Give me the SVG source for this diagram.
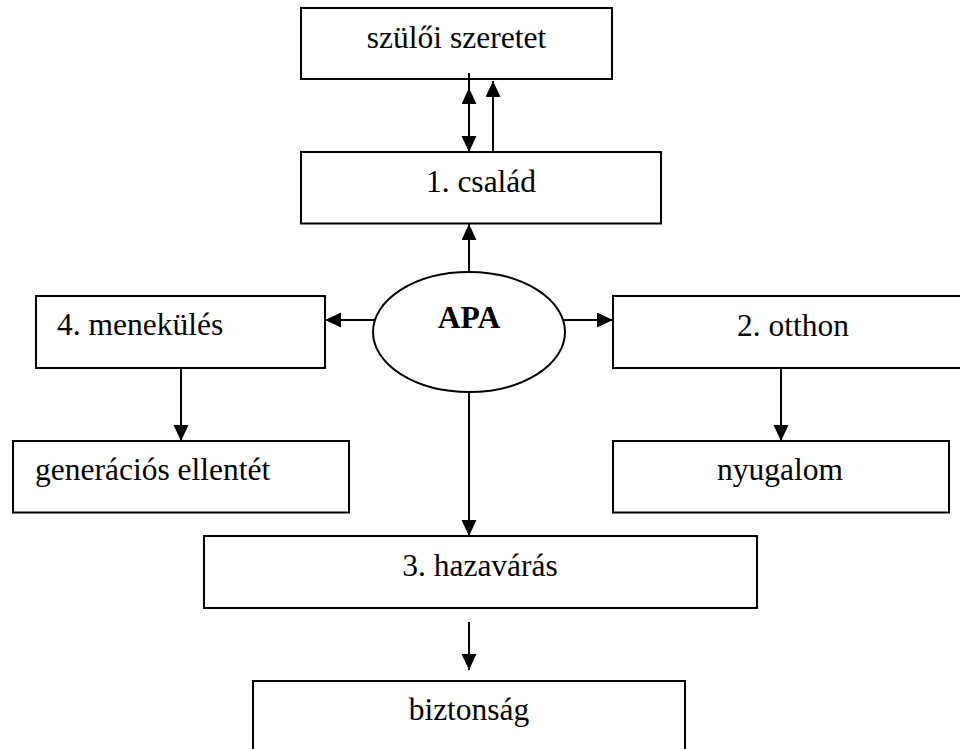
<svg xmlns="http://www.w3.org/2000/svg" width="960" height="749" viewBox="0 0 960 749">
  <defs>
    <marker id="ah" markerUnits="userSpaceOnUse" markerWidth="17" markerHeight="16" refX="16" refY="7.5" orient="auto">
      <path d="M0,0 L16,7.5 L0,15 z" fill="#000"/>
    </marker>
    <style>
      .box { fill: #fff; stroke: #000; stroke-width: 2; }
      .lbl { font-size: 31.5px; fill: #000; }
      .mid { text-anchor: middle; }
      .bold { font-weight: bold; }
      .conn { fill: none; stroke: #000; stroke-width: 2; marker-end: url(#ah); }
    </style>
  </defs>
  <rect x="0" y="0" width="960" height="749" fill="#fff"/>

  <g font-family="'Liberation Serif', 'DejaVu Serif', serif">
  <g id="szuloi-szeretet">
    <rect class="box" x="301" y="8" width="311" height="71"/>
    <text class="lbl mid" x="456.5" y="48">szülői szeretet</text>
  </g>
  <g id="csalad">
    <rect class="box" x="301" y="152" width="360" height="71.5"/>
    <text class="lbl mid" x="481" y="191.5">1. család</text>
  </g>
  <g id="apa">
    <ellipse class="box" cx="469" cy="332" rx="96" ry="60"/>
    <text class="lbl mid bold" x="469" y="328">APA</text>
  </g>
  <g id="menekules">
    <rect class="box" x="36" y="296" width="289" height="72"/>
    <text class="lbl" x="57" y="335">4. menekülés</text>
  </g>
  <g id="otthon">
    <rect class="box" x="613" y="296" width="370" height="72"/>
    <text class="lbl mid" x="793" y="336">2. otthon</text>
  </g>
  <g id="generacios">
    <rect class="box" x="13" y="441" width="336" height="71.5"/>
    <text class="lbl" x="35" y="480">generációs ellentét</text>
  </g>
  <g id="nyugalom">
    <rect class="box" x="613" y="441" width="336" height="71.5"/>
    <text class="lbl mid" x="780" y="480">nyugalom</text>
  </g>
  <g id="hazavaras">
    <rect class="box" x="204" y="536" width="553" height="72"/>
    <text class="lbl mid" x="480" y="576">3. hazavárás</text>
  </g>
  <g id="biztonsag">
    <rect class="box" x="253" y="681" width="432" height="100"/>
    <text class="lbl mid" x="469" y="720">biztonság</text>
  </g>
  </g>

  <g id="connectors">
    <path class="conn" d="M469,73 L469,152"/>
    <path class="conn" d="M469,112 L469,88"/>
    <path class="conn" d="M493,152 L493,81"/>
    <path class="conn" d="M469,272 L469,224"/>
    <path class="conn" d="M375,320 L325,320"/>
    <path class="conn" d="M563,320 L613,320"/>
    <path class="conn" d="M469,392 L469,536"/>
    <path class="conn" d="M181,368 L181,441"/>
    <path class="conn" d="M781,368 L781,441"/>
    <path class="conn" d="M469,622 L469,670"/>
  </g>
</svg>
